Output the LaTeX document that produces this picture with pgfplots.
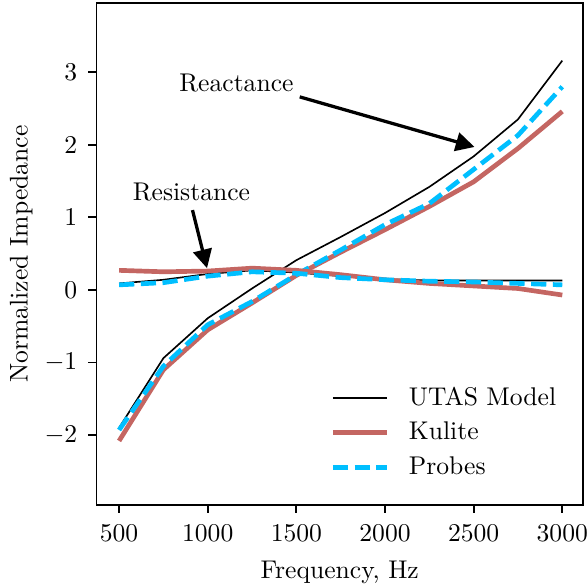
\documentclass[11pt,border=0pt]{standalone}
\usepackage{pgfplots}
\pgfplotsset{compat=1.18}
\usetikzlibrary{arrows.meta}
\definecolor{kulite}{RGB}{196,102,98}
\definecolor{probes}{RGB}{0,191,255}
\begin{document}
\begin{tikzpicture}
\begin{axis}[
  scale only axis,
  width=208pt, height=214.5pt,
  xmin=373, xmax=3116,
  ymin=-2.96, ymax=3.95,
  xtick={500,1000,1500,2000,2500,3000},
  ytick={-2,-1,0,1,2,3},
  tick pos=left,
  tick align=outside,
  major tick length=3.5pt,
  every tick/.style={black, line width=0.8pt},
  axis line style={line width=0.8pt},
  /pgf/number format/1000 sep={},
  x tick label style={yshift=-1.4pt},
  y tick label style={xshift=-0.9pt},
  xlabel={Frequency, Hz},
  ylabel={Normalized Impedance},
  every axis x label/.style={at={(axis description cs:0.5,-0.134)}, anchor=center},
  every axis y label/.style={at={(axis description cs:-0.155,0.5)}, rotate=90, anchor=center},
  legend style={at={(0.466,0.255)}, anchor=north west, draw=none, fill=none,
    row sep=1.6pt, cells={anchor=west}},
  legend image code/.code={\draw[#1] (0pt,0pt) -- (23pt,0pt); \path (29.5pt,0pt);},
]
% UTAS Model
\addplot[black, line width=0.7pt] coordinates {
 (500,-1.90) (750,-0.94) (1000,-0.39) (1250,0.02) (1500,0.41) (1750,0.73)
 (2000,1.06) (2250,1.42) (2500,1.84) (2750,2.35) (3000,3.16)};
\addlegendentry{UTAS Model}
% Kulite
\addplot[kulite, line width=2pt] coordinates {
 (500,-2.08) (750,-1.10) (1000,-0.55) (1250,-0.18) (1500,0.20) (1750,0.52)
 (2000,0.83) (2250,1.15) (2500,1.49) (2750,1.95) (3000,2.46)};
\addlegendentry{Kulite}
% Probes
\addplot[probes, line width=2pt, dash pattern=on 6.5pt off 2.8pt] coordinates {
 (500,-1.93) (750,-1.05) (1000,-0.48) (1250,-0.16) (1500,0.21) (1750,0.55)
 (2000,0.90) (2250,1.19) (2500,1.66) (2750,2.13) (3000,2.80)};
\addlegendentry{Probes}
% Resistance curves
\addplot[black, line width=0.7pt, forget plot] coordinates {
 (500,0.09) (750,0.14) (1000,0.22) (1250,0.27) (1500,0.24) (1750,0.19)
 (2000,0.15) (2250,0.13) (2500,0.13) (2750,0.13) (3000,0.13)};
\addplot[kulite, line width=2pt, forget plot] coordinates {
 (500,0.27) (750,0.25) (1000,0.26) (1250,0.30) (1500,0.27) (1750,0.21)
 (2000,0.14) (2250,0.09) (2500,0.055) (2750,0.02) (3000,-0.07)};
\addplot[probes, line width=2pt, dash pattern=on 6.5pt off 2.8pt, forget plot] coordinates {
 (500,0.07) (750,0.10) (1000,0.19) (1250,0.25) (1500,0.23) (1750,0.17)
 (2000,0.14) (2250,0.12) (2500,0.11) (2750,0.09) (3000,0.07)};
% annotations
\node at (axis cs:1162,2.85) {Reactance};
\draw[line width=1.4pt, -{Triangle[length=8pt,width=8pt]}] (axis cs:1519,2.66) -- (axis cs:2505,1.97);
\node at (axis cs:908,1.35) {Resistance};
\draw[line width=1.4pt, -{Triangle[length=8pt,width=8pt]}] (axis cs:914,1.10) -- (axis cs:996,0.30);
\end{axis}
\pgfresetboundingbox
\path[use as bounding box] ([xshift=-41.3pt,yshift=-35.6pt]current axis.south west) rectangle ([xshift=1.6pt,yshift=1.4pt]current axis.north east);
\end{tikzpicture}
\end{document}
